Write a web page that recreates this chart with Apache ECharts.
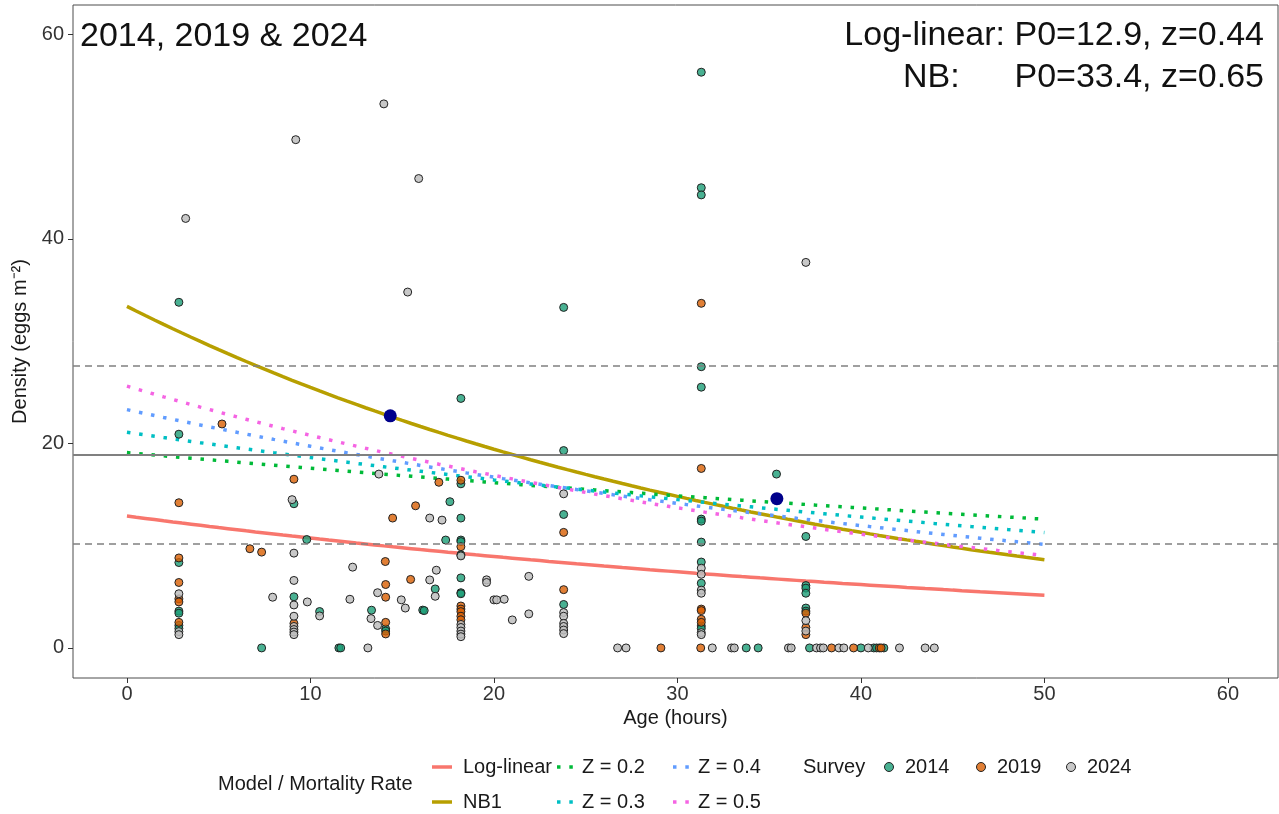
<!DOCTYPE html>
<html>
<head>
<meta charset="utf-8">
<script src="https://cdn.jsdelivr.net/npm/echarts@6/dist/echarts.min.js"></script>
<style>
  html, body { margin: 0; padding: 0; background: #ffffff; }
  #chart { width: 1279px; height: 814px; }
</style>
</head>
<body>
<div id="chart"></div>
<script>
// Axis ticks
const xTicks = [0, 10, 20, 30, 40, 50, 60];
const yTicks = [0, 20, 40, 60];

// Survey densities: [age (hours), eggs per m²]
const survey2014 = [
  [2.83, 33.8], [2.83, 20.9], [2.83, 8.35], [2.83, 3.6], [2.83, 3.4], [2.83, 2.2], [2.83, 1.9],
  [9.1, 14.1], [9.1, 5.0],
  [9.8, 10.6], [10.5, 3.56], [13.33, 3.69], [14.1, 1.86], [14.1, 1.65], [16.12, 3.7], [16.2, 3.65],
  [16.8, 5.77], [17.37, 10.55], [17.6, 14.3],
  [18.2, 24.4], [18.2, 16.05], [18.2, 12.7], [18.2, 10.55], [18.2, 10.4], [18.2, 9.1], [18.2, 6.85], [18.2, 5.4], [18.2, 5.3],
  [23.8, 33.3], [23.8, 19.3], [23.8, 13.05], [23.8, 4.25],
  [31.3, 56.3], [31.3, 45.0], [31.3, 44.3], [31.3, 27.5], [31.3, 25.5], [31.3, 12.6], [31.3, 12.4],
  [31.3, 10.35], [31.3, 8.4], [31.3, 6.33], [31.3, 2.15], [31.3, 1.9],
  [35.4, 17.0],
  [37.0, 10.9], [37.0, 6.1], [37.0, 5.85], [37.0, 5.35], [37.0, 3.9], [37.0, 3.6],
  [7.34, 0], [11.55, 0], [11.65, 0], [33.75, 0], [34.4, 0], [37.2, 0], [40.0, 0], [40.7, 0], [40.85, 0], [41.25, 0]
];
const survey2019 = [
  [2.83, 14.2], [2.83, 8.8], [2.83, 6.4], [2.83, 4.8], [2.83, 4.5], [2.83, 2.5],
  [5.18, 21.9], [6.7, 9.7], [7.34, 9.37],
  [9.1, 16.5], [9.1, 2.4],
  [14.08, 8.45], [14.1, 6.2], [14.1, 4.96], [14.1, 2.5], [14.1, 1.37], [14.48, 12.7],
  [15.46, 6.7], [15.73, 13.9], [17.0, 16.2],
  [18.2, 16.4], [18.2, 9.9], [18.2, 4.1], [18.2, 3.8], [18.2, 3.55], [18.2, 3.1], [18.2, 2.75],
  [23.8, 11.3], [23.8, 5.7],
  [31.3, 33.7], [31.3, 17.55], [31.3, 3.8], [31.3, 3.65], [31.3, 2.8], [31.3, 2.5],
  [37.0, 3.4], [37.0, 2.0], [37.0, 1.3],
  [29.1, 0], [31.27, 0], [38.4, 0], [39.6, 0], [41.0, 0], [41.1, 0]
];
const survey2024 = [
  [2.83, 5.3], [2.83, 1.6], [2.83, 1.3], [3.2, 42.0],
  [7.94, 4.96], [9.0, 14.5], [9.2, 49.7],
  [9.1, 9.27], [9.1, 6.6], [9.1, 4.2], [9.1, 3.1], [9.1, 2.1], [9.1, 1.8], [9.1, 1.55], [9.1, 1.3],
  [9.83, 4.5], [10.5, 3.13], [12.15, 4.76], [12.3, 7.9], [13.3, 2.87], [13.66, 5.4], [13.66, 2.2],
  [13.73, 17.0], [14.0, 53.2], [14.95, 4.7], [15.17, 3.9], [15.3, 34.8], [15.9, 45.9],
  [16.5, 12.7], [16.5, 6.65], [16.86, 7.6], [16.8, 5.05], [17.17, 12.5],
  [18.2, 9.0], [18.2, 2.3], [18.2, 2.0], [18.2, 1.65], [18.2, 1.35], [18.2, 1.1],
  [19.6, 6.66], [19.6, 6.4], [20.0, 4.7], [20.15, 4.7], [20.56, 4.76], [21.0, 2.74], [21.9, 7.0], [21.9, 3.33],
  [23.8, 15.07], [23.8, 3.46], [23.8, 3.1], [23.8, 2.4], [23.8, 2.1], [23.8, 1.75], [23.8, 1.4],
  [31.3, 7.8], [31.3, 7.2], [31.3, 5.65], [31.3, 5.35], [31.3, 1.5], [31.3, 1.3],
  [37.0, 37.7], [37.0, 2.67], [37.0, 1.65],
  [13.13, 0], [26.74, 0], [27.2, 0], [31.9, 0], [32.95, 0], [33.1, 0], [36.05, 0], [36.2, 0],
  [37.58, 0], [37.8, 0], [37.95, 0], [38.8, 0], [39.07, 0], [40.4, 0], [42.1, 0], [43.5, 0], [44.0, 0]
];

// Mean density at the two survey age groups
const meanPoints = [[14.35, 22.7], [35.42, 14.6]];

// Overall mean density and its band
const meanLevel = 18.9;
const bandLevels = [10.2, 27.6];

// Fitted models: P0 (eggs m⁻²) and z (per day)
const logLinearFit = [12.9, 0.44];
const nbFit = [33.4, 0.65];

// Fixed mortality-rate scenarios and their starting densities
const zRates = [0.2, 0.3, 0.4, 0.5];
const zIntercepts = [19.1, 21.1, 23.3, 25.6];
const zLabels = ['Z = 0.2', 'Z = 0.3', 'Z = 0.4', 'Z = 0.5'];
const zColors = ['#00BA38', '#00BFC4', '#619CFF', '#F564E3'];

const modelNames = ['Log-linear', 'NB1'];
const modelColors = ['#F8766D', '#B79F00'];
const surveyYears = ['2014', '2019', '2024'];
const surveyColors = ['rgba(27,158,119,0.8)', 'rgba(217,95,2,0.8)', 'rgba(190,190,190,0.85)'];

const modelAgeMax = 50;

// Exponential decay with z per day evaluated on an hourly age scale
function decayCurve(p0, z) {
  const pts = [];
  for (let t = 0; t <= modelAgeMax + 1e-9; t += 0.5) {
    pts.push([t, p0 * Math.exp(-z * t / 24)]);
  }
  return pts;
}

const FONT = '"Liberation Sans", Arial, sans-serif';
const TXT = '#1a1a1a';
const LEG_FONT = '20px ' + FONT;

const chart = echarts.init(document.getElementById('chart'), null, { renderer: 'canvas' });

const dotted = [3.5, 8.8];

const zSeries = zRates.map((z, i) => ({
  name: zLabels[i],
  type: 'line',
  data: decayCurve(zIntercepts[i], z),
  showSymbol: false,
  symbol: 'none',
  z: 3,
  lineStyle: { color: zColors[i], width: 3.5, type: dotted, cap: 'butt' },
  silent: true
}));

const surveySeries = surveyYears.map((yr, i) => ({
  name: yr,
  type: 'scatter',
  data: [survey2014, survey2019, survey2024][i],
  symbol: 'circle',
  symbolSize: 8,
  z: 4,
  itemStyle: { color: surveyColors[i], borderColor: '#222222', borderWidth: 1, opacity: 1 },
  silent: true
}));

// Legend, laid out as two rows of keys with group titles
const row = [767, 802];
const legendGraphics = [];
function legendText(x, y, text) {
  legendGraphics.push({ type: 'text', x: x, y: y, style: { text: text, font: LEG_FONT, fill: TXT, verticalAlign: 'middle' } });
}
legendText(218, 784, 'Model / Mortality Rate');
modelNames.forEach((n, i) => {
  legendGraphics.push({ type: 'rect', shape: { x: 432, y: row[i] - 1.75, width: 20, height: 3.5 }, style: { fill: modelColors[i] } });
  legendText(463, row[i], n);
});
const zKeyX = [557, 673];
zLabels.forEach((n, i) => {
  const col = Math.floor(i / 2), r = i % 2;
  [0, 12.3].forEach(dx => {
    legendGraphics.push({ type: 'rect', shape: { x: zKeyX[col] + dx, y: row[r] - 1.75, width: 3.5, height: 3.5 }, style: { fill: zColors[i] } });
  });
  legendText(zKeyX[col] + 25, row[r], n);
});
legendText(803, row[0], 'Survey');
const yearKeyX = [889, 981, 1071];
surveyYears.forEach((yr, i) => {
  legendGraphics.push({ type: 'circle', shape: { cx: yearKeyX[i], cy: row[0], r: 4.5 }, style: { fill: surveyColors[i], stroke: '#222222', lineWidth: 1 } });
  legendText(yearKeyX[i] + 16, row[0], yr);
});

const option = {
  backgroundColor: '#ffffff',
  animation: false,
  textStyle: { fontFamily: FONT },
  grid: {
    left: 73, right: 1, top: 5, bottom: 136,
    outerBoundsMode: 'none', containLabel: false,
    show: true, borderColor: '#4d4d4d', borderWidth: 1, backgroundColor: 'transparent'
  },
  xAxis: {
    type: 'value', min: -2.94, max: 62.73,
    axisLine: { show: false, onZero: false },
    splitLine: { show: false },
    axisTick: { show: true, customValues: xTicks, length: 5, lineStyle: { color: '#333333' } },
    axisLabel: { customValues: xTicks, fontSize: 20, color: '#333333', margin: 6, fontFamily: FONT },
    name: 'Age (hours)', nameLocation: 'middle', nameGap: 30,
    nameTextStyle: { fontSize: 20, color: TXT, fontFamily: FONT }
  },
  yAxis: {
    type: 'value', min: -2.94, max: 62.87,
    axisLine: { show: false, onZero: false },
    splitLine: { show: false },
    axisTick: { show: true, customValues: yTicks, length: 5, lineStyle: { color: '#333333' } },
    axisLabel: { customValues: yTicks, fontSize: 20, color: '#333333', margin: 9, fontFamily: FONT },
    name: 'Density (eggs m⁻²)', nameLocation: 'middle', nameGap: 40, nameRotate: 90,
    nameTextStyle: { fontSize: 20, color: TXT, fontFamily: FONT }
  },
  graphic: [
    { type: 'text', x: 80, y: 37, style: { text: '2014, 2019 & 2024', font: '34px ' + FONT, fill: '#111111', verticalAlign: 'middle' } },
    { type: 'text', x: 1264, y: 36, style: { text: 'Log-linear: P0=12.9, z=0.44', font: '34px ' + FONT, fill: '#111111', align: 'right', verticalAlign: 'middle' } },
    { type: 'text', x: 903, y: 78, style: { text: 'NB:', font: '34px ' + FONT, fill: '#111111', verticalAlign: 'middle' } },
    { type: 'text', x: 1264, y: 78, style: { text: 'P0=33.4, z=0.65', font: '34px ' + FONT, fill: '#111111', align: 'right', verticalAlign: 'middle' } },
    ...legendGraphics
  ],
  series: [
    {
      name: 'levels', type: 'scatter', data: [], silent: true, z: 1,
      markLine: {
        silent: true, symbol: 'none', animation: false,
        label: { show: false },
        data: [
          { yAxis: meanLevel, lineStyle: { color: '#808080', width: 2, type: 'solid' } },
          { yAxis: bandLevels[0], lineStyle: { color: '#808080', width: 1.6, type: [7, 5] } },
          { yAxis: bandLevels[1], lineStyle: { color: '#808080', width: 1.6, type: [7, 5] } }
        ]
      }
    },
    ...surveySeries,
    {
      name: modelNames[0], type: 'line', data: decayCurve(logLinearFit[0], logLinearFit[1]),
      showSymbol: false, symbol: 'none', z: 3, silent: true,
      lineStyle: { color: modelColors[0], width: 3.5 }
    },
    {
      name: modelNames[1], type: 'line', data: decayCurve(nbFit[0], nbFit[1]),
      showSymbol: false, symbol: 'none', z: 3, silent: true,
      lineStyle: { color: modelColors[1], width: 3.5 }
    },
    ...zSeries,
    {
      name: 'means', type: 'scatter', data: meanPoints, symbolSize: 13, z: 6, silent: true,
      itemStyle: { color: '#00008B', opacity: 1 }
    }
  ]
};

chart.setOption(option);
</script>
</body>
</html>
